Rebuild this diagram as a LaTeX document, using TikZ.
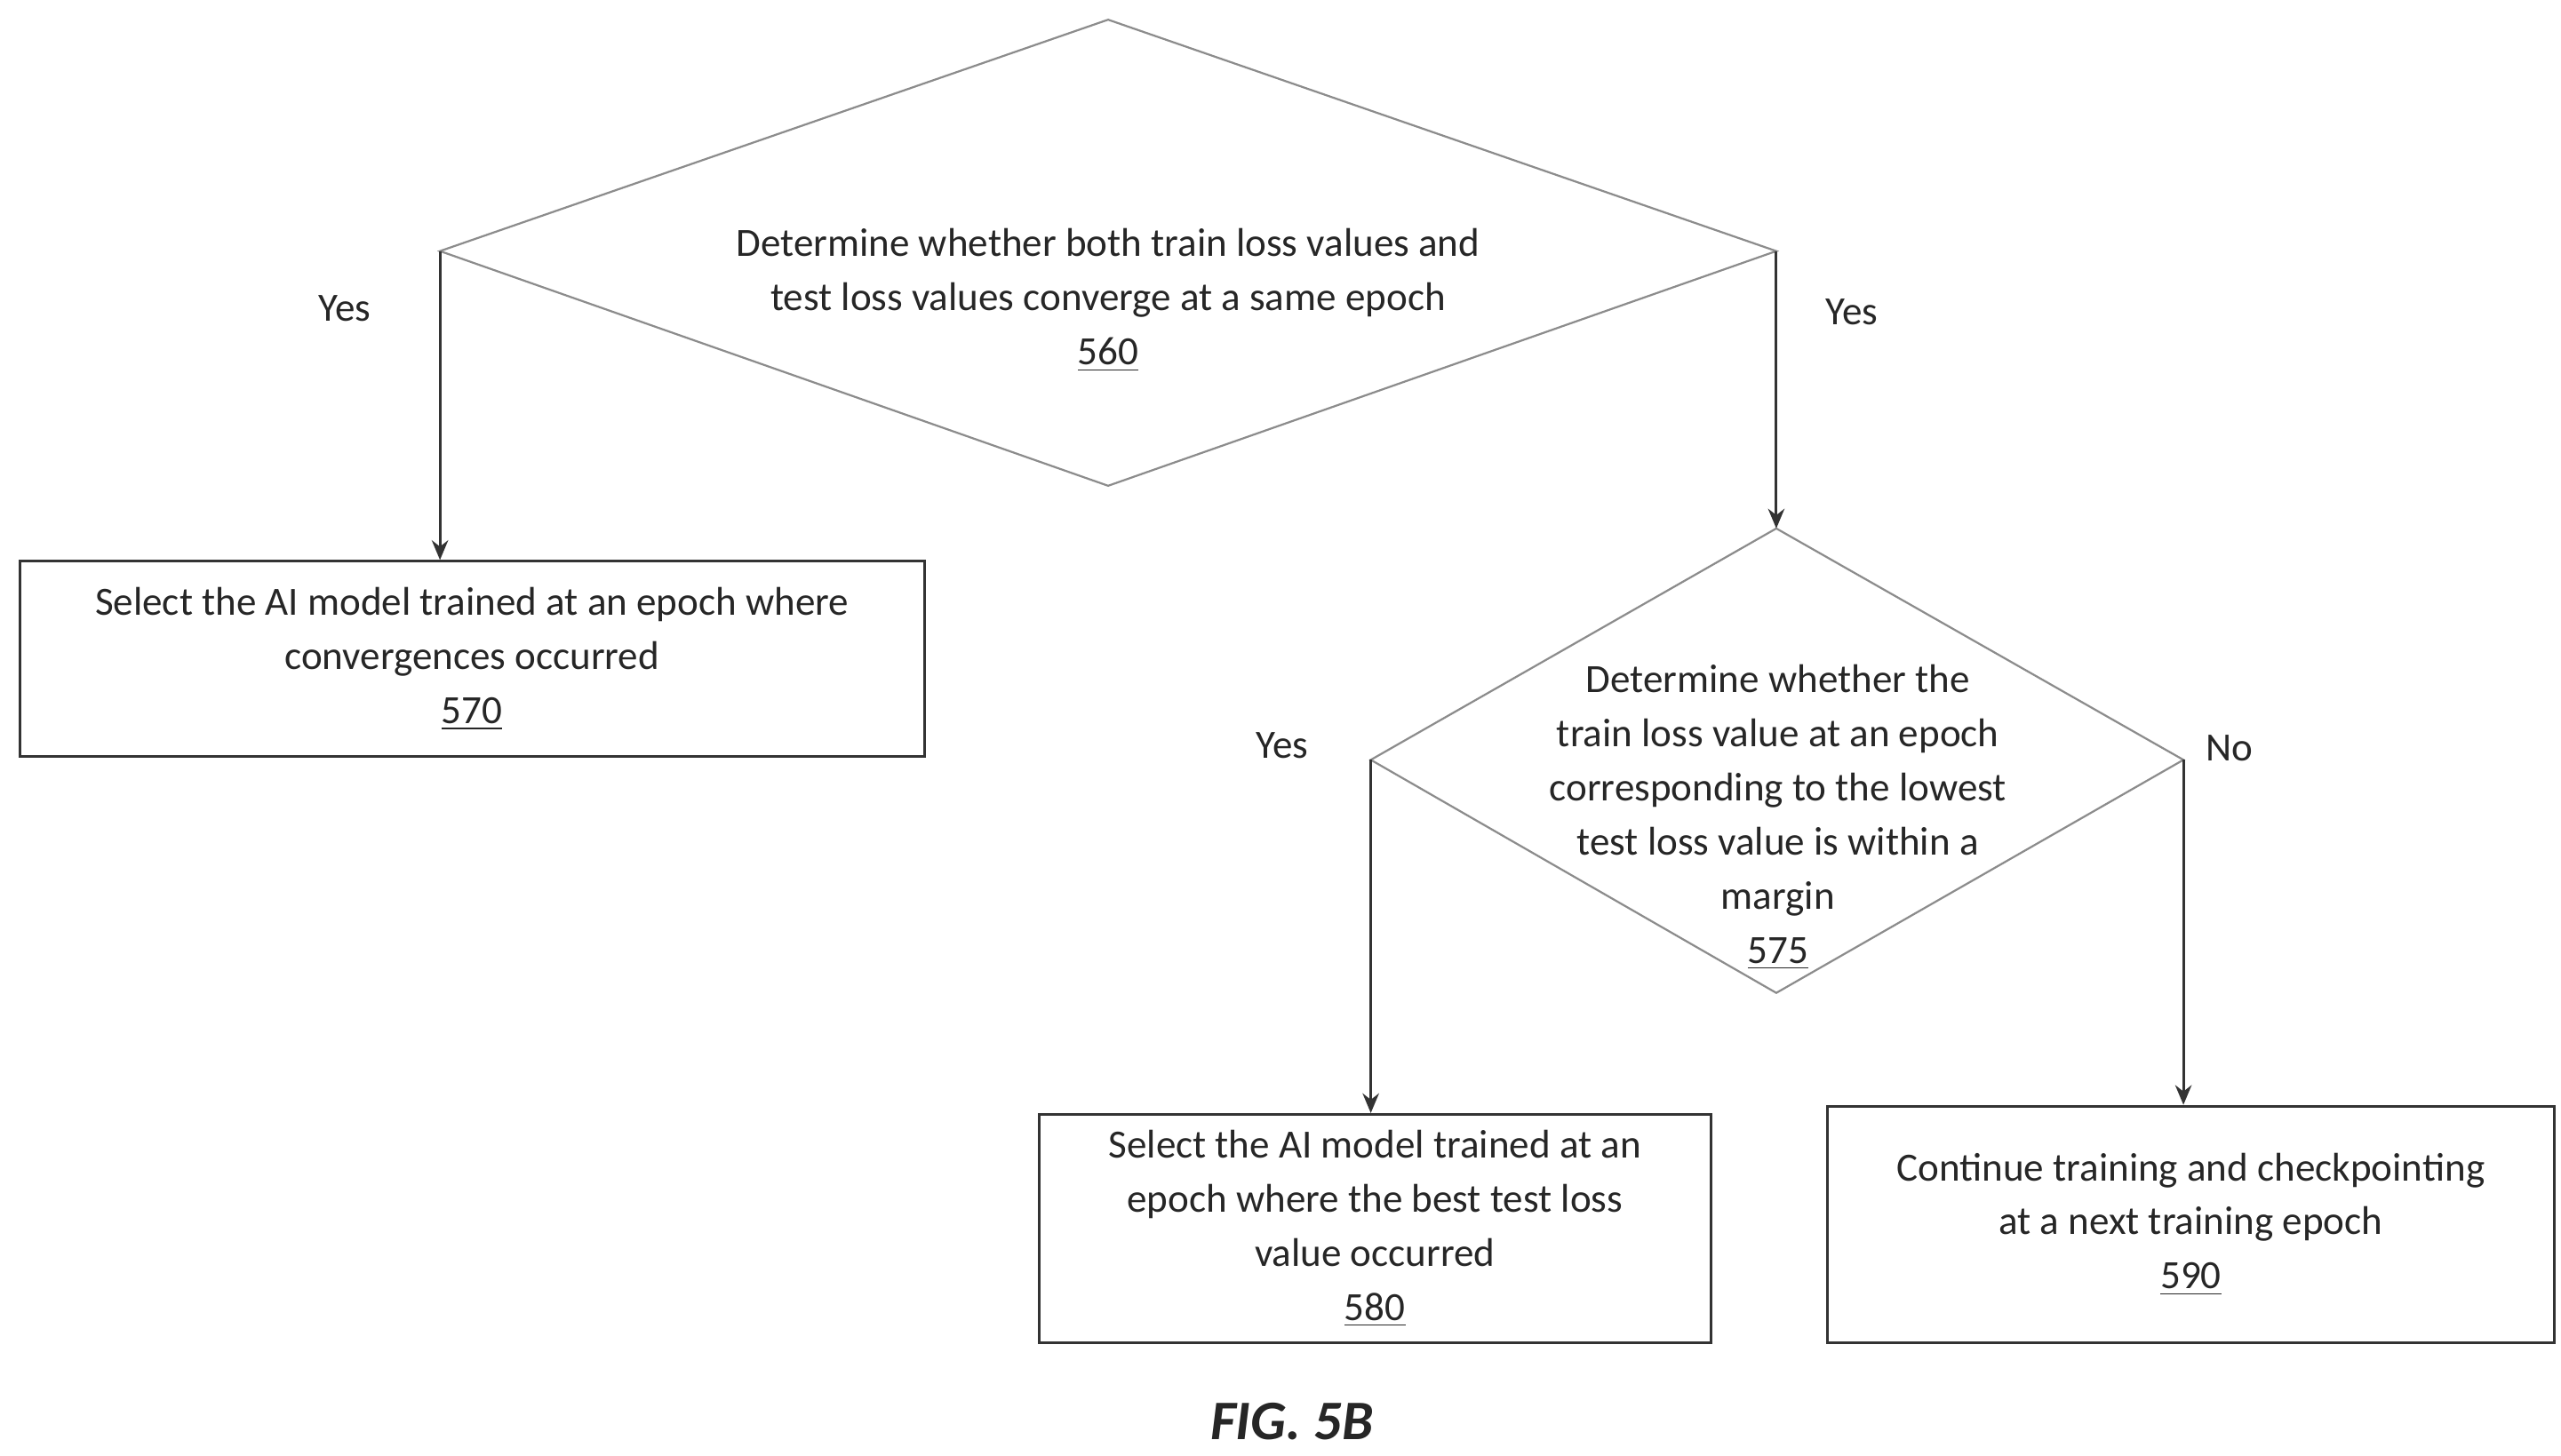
\documentclass[tikz,border=0pt]{standalone}
\usepackage{fontspec}
\setmainfont{Carlito}
\usetikzlibrary{arrows.meta}
\begin{document}
\begin{tikzpicture}[x=0.5pt,y=-0.5pt,
  box/.style={draw=black!80,line width=0.8pt},
  dia/.style={draw=black!45,line width=0.6pt},
  txt/.style={align=center,font=\fontsize{12.2}{16.5}\selectfont,text=black!85},
  lab/.style={font=\fontsize{12.2}{14}\selectfont,text=black!85},
  arr/.style={draw=black!80,line width=0.8pt,-{Stealth[length=6pt,width=5pt]}}]
\useasboundingbox (0,0) rectangle (1560,887);
% diamond 560
\coordinate (d1t) at (675,12); \coordinate (d1l) at (268,153);
\coordinate (d1r) at (1082,153); \coordinate (d1b) at (675,296);
\draw[dia] (d1t)--(d1r)--(d1b)--(d1l)--cycle;
\node[txt] (t560) at (675,183) {Determine whether both train loss values and\\test loss values converge at a same epoch\\\underline{560}};
% box 570
\node[box,txt,minimum width=275.5pt,minimum height=59.5pt] (b570) at (287.5,401.5) {Select the AI model trained at an epoch where\\convergences occurred\\\underline{570}};
% diamond 575
\coordinate (d2t) at (1082,322); \coordinate (d2l) at (835,463);
\coordinate (d2r) at (1330,463); \coordinate (d2b) at (1082,605);
\draw[dia] (d2t)--(d2r)--(d2b)--(d2l)--cycle;
\node[txt] (t575) at (1083,498) {Determine whether the\\train loss value at an epoch\\corresponding to the lowest\\test loss value is within a\\margin\\\underline{575}};
% boxes
\node[box,txt,minimum width=204.5pt,minimum height=69.5pt] (b580) at (837.5,748.5) {Select the AI model trained at an\\epoch where the best test loss\\value occurred\\\underline{580}};
\node[box,txt,minimum width=221.5pt,minimum height=72pt] (b590) at (1334.5,746) {Continue training and checkpointing\\at a next training epoch\\\underline{590}};
% arrows
\draw[arr] (d1l) -- (d1l |- b570.north);
\draw[arr] (d1r) -- (d2t);
\draw[arr] (d2l) -- (d2l |- b580.north);
\draw[arr] (d2r) -- (d2r |- b590.north);
% labels
\node[lab] (y1) at (210,188) {Yes};
\node[lab] (y2) at (1128,190) {Yes};
\node[lab] (y3) at (781,454) {Yes};
\node[lab] (n1) at (1358,456) {No};
\node[font=\fontsize{17}{20}\selectfont\itshape\bfseries,text=black!85] (fig) at (787,866) {FIG. 5B};
\end{tikzpicture}
\end{document}
